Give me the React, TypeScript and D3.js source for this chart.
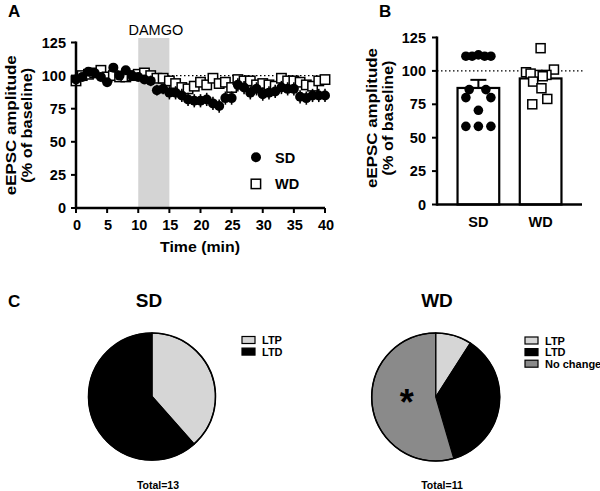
import React from "react";
import * as d3 from "d3";

// ---------- Panel A data ----------
const timeMin = d3.range(0, 41);
const sdTime = [97, 99, 103, 102, 99, 95, 106, 100, 104, 100, 99, 97, 96, 89, 90, 87, 87, 85, 82, 81, 81, 82, 79, 77, 83, 83, 93, 91, 87, 90, 86, 87, 88, 91, 90, 90, 84, 83, 85, 85, 85];
const sdTimeErr = [3, 3, 3, 3, 3, 3, 3, 3, 3, 3, 3, 3, 4, 4, 4, 5, 5, 5, 5, 5, 5, 5, 5, 5, 5, 5, 5, 5, 5, 5, 5, 5, 5, 5, 5, 5, 5, 5, 5, 5, 5];
const wdTime = [96, 100, 101, 102, 104, 99, 100, 99, 99, 100, 101, 102, 100, 98, 98, 96, 94, 91, 90, 92, 95, 93, 98, 94, 95, 91, 97, 96, 96, 93, 94, 93, 92, 98, 96, 96, 95, 93, 92, 96, 97];
const wdTimeErr = [2, 2, 2, 2, 2, 2, 2, 2, 2, 2, 2, 2, 2, 3, 3, 3, 3, 3, 3, 3, 3, 3, 3, 3, 3, 3, 3, 3, 3, 3, 3, 3, 3, 3, 3, 3, 3, 3, 3, 3, 3];
const xTicksA = [0, 5, 10, 15, 20, 25, 30, 35, 40];
const yTicks = [0, 25, 50, 75, 100, 125];
const damgoWindow = [10, 15];

// ---------- Panel B data ----------
const groups = ["SD", "WD"];
const sdCells = [111, 111, 112, 111, 111, 86, 86, 80, 80, 70.5, 58.5, 58.5, 58.5];
const sdJitter = [-0.3, -0.15, 0, 0.15, 0.3, -0.22, 0.18, -0.3, 0.3, 0, -0.3, 0, 0.3];
const wdCells = [117, 99, 101, 97, 97, 98, 96, 92, 87, 79, 75];
const wdJitter = [0, -0.35, 0.32, -0.08, 0.14, -0.24, 0.05, -0.18, 0.02, 0.16, -0.2];

// ---------- Panel C data ----------
const sdPieLabels = ["LTP", "LTD"];
const sdPieCounts = [5, 8];
const wdPieLabels = ["LTP", "LTD", "No change"];
const wdPieCounts = [1, 4, 6];
const pieColors: Record<string, string> = { LTP: "#d6d6d6", LTD: "#000000", "No change": "#8a8a8a" };

const FONT = "'Liberation Sans', Arial, sans-serif";

function sem(v: number[]) {
  return (d3.deviation(v) as number) / Math.sqrt(v.length);
}

function YTitle(props: { x: number; cy: number }) {
  const { x, cy } = props;
  return (
    <g>
      <text transform={`translate(${x},${cy}) rotate(-90)`} fontSize={15.5} fontWeight="bold" textAnchor="middle" fontFamily={FONT} textLength={140} lengthAdjust="spacingAndGlyphs">eEPSC amplitude</text>
      <text transform={`translate(${x + 15.5},${cy}) rotate(-90)`} fontSize={15.5} fontWeight="bold" textAnchor="middle" fontFamily={FONT} textLength={115} lengthAdjust="spacingAndGlyphs">(% of baseline)</text>
    </g>
  );
}

function PanelA() {
  const x = d3.scaleLinear().domain([0, 40]).range([76, 325]);
  const y = d3.scaleLinear().domain([0, 125]).range([208, 42.5]);
  return (
    <g>
      <text x={8} y={17} fontSize={17} fontWeight="bold" fontFamily={FONT}>A</text>
      <rect x={x(damgoWindow[0])} y={38} width={x(damgoWindow[1]) - x(damgoWindow[0])} height={208 - 38} fill="#d4d4d4" />
      <text x={(x(damgoWindow[0]) + x(damgoWindow[1])) / 2 + 2} y={35} fontSize={14.5} textAnchor="middle" fontFamily={FONT}>DAMGO</text>
      <line x1={x(0)} x2={x(40)} y1={y(100)} y2={y(100)} stroke="#000" strokeWidth={1.2} strokeDasharray="1.5,2.5" />
      {/* WD */}
      {timeMin.map((t, i) => (
        <line key={"we" + i} x1={x(t)} x2={x(t)} y1={y(wdTime[i] - wdTimeErr[i])} y2={y(wdTime[i] + wdTimeErr[i])} stroke="#000" strokeWidth={1.3} />
      ))}
      {timeMin.map((t, i) => (
        <rect key={"ws" + i} x={x(t) - 4.7} y={y(wdTime[i]) - 4.7} width={9.4} height={9.4} fill="#fff" stroke="#000" strokeWidth={1.5} />
      ))}
      {/* SD */}
      {timeMin.map((t, i) => (
        <line key={"se" + i} x1={x(t)} x2={x(t)} y1={y(sdTime[i] - sdTimeErr[i])} y2={y(sdTime[i] + sdTimeErr[i])} stroke="#000" strokeWidth={1.6} />
      ))}
      {timeMin.map((t, i) => (
        <circle key={"sc" + i} cx={x(t)} cy={y(sdTime[i])} r={5} fill="#000" />
      ))}
      {/* axes */}
      <line x1={x(0)} x2={x(40)} y1={208} y2={208} stroke="#000" strokeWidth={2.5} />
      <line x1={76} x2={76} y1={y(125) - 1} y2={209.2} stroke="#000" strokeWidth={2.5} />
      {xTicksA.map((t) => (
        <g key={"xt" + t}>
          <line x1={x(t)} x2={x(t)} y1={208} y2={213} stroke="#000" strokeWidth={2} />
          <text x={x(t) + 1} y={230} fontSize={14.5} fontWeight="bold" textAnchor="middle" fontFamily={FONT}>{t}</text>
        </g>
      ))}
      {yTicks.map((t) => (
        <g key={"yt" + t}>
          <line x1={71} x2={76} y1={y(t)} y2={y(t)} stroke="#000" strokeWidth={2} />
          <text x={66} y={y(t) + 5} fontSize={14.5} fontWeight="bold" textAnchor="end" fontFamily={FONT}>{t}</text>
        </g>
      ))}
      <text x={200} y={252} fontSize={15} fontWeight="bold" textAnchor="middle" fontFamily={FONT} textLength={80} lengthAdjust="spacingAndGlyphs">Time (min)</text>
      <YTitle x={16} cy={y(62.5)} />
      {/* legend */}
      <circle cx={256} cy={157.3} r={5} fill="#000" />
      <text x={275} y={162.5} fontSize={14.5} fontWeight="bold" fontFamily={FONT}>SD</text>
      <rect x={251.2} y={179.2} width={9.4} height={9.4} fill="#fff" stroke="#000" strokeWidth={1.5} />
      <text x={275} y={189} fontSize={14.5} fontWeight="bold" fontFamily={FONT}>WD</text>
    </g>
  );
}

function PanelB() {
  const x = d3.scaleBand().domain(groups).range([437, 582]).paddingInner(0.33).paddingOuter(0.33);
  const y = d3.scaleLinear().domain([0, 125]).range([204.5, 37.5]);
  const cells = [sdCells, wdCells];
  const jit = [sdJitter, wdJitter];
  const bw = x.bandwidth();
  return (
    <g>
      <text x={379} y={17} fontSize={17} fontWeight="bold" fontFamily={FONT}>B</text>
      {groups.map((g, gi) => {
        const m = d3.mean(cells[gi]) as number;
        const e = sem(cells[gi]);
        const x0 = x(g) as number;
        const cx = x0 + bw / 2;
        return (
          <g key={g}>
            <rect x={x0} y={y(m)} width={bw} height={y(0) - y(m)} fill="#fff" stroke="#000" strokeWidth={2.2} />
            <line x1={cx} x2={cx} y1={y(m)} y2={y(m + e)} stroke="#000" strokeWidth={2} />
            <line x1={cx - 8} x2={cx + 8} y1={y(m + e)} y2={y(m + e)} stroke="#000" strokeWidth={2} />
          </g>
        );
      })}
      <line x1={437} x2={584} y1={y(100)} y2={y(100)} stroke="#000" strokeWidth={1.2} strokeDasharray="1.5,2.5" />
      {sdCells.map((v, i) => {
        const cx = (x("SD") as number) + bw / 2 + jit[0][i] * bw;
        return <circle key={"bc" + i} cx={cx} cy={y(v)} r={4.8} fill="#000" />;
      })}
      {wdCells.map((v, i) => {
        const cx = (x("WD") as number) + bw / 2 + jit[1][i] * bw;
        return <rect key={"bs" + i} x={cx - 4.5} y={y(v) - 4.5} width={9} height={9} fill="#fff" stroke="#000" strokeWidth={1.5} />;
      })}
      <line x1={437} x2={582} y1={204.5} y2={204.5} stroke="#000" strokeWidth={2.5} />
      <line x1={437} x2={437} y1={y(125) - 1} y2={205.7} stroke="#000" strokeWidth={2.5} />
      {yTicks.map((t) => (
        <g key={"byt" + t}>
          <line x1={432} x2={437} y1={y(t)} y2={y(t)} stroke="#000" strokeWidth={2} />
          <text x={426} y={y(t) + 5} fontSize={14.5} fontWeight="bold" textAnchor="end" fontFamily={FONT}>{t}</text>
        </g>
      ))}
      {groups.map((g) => (
        <text key={"bl" + g} x={(x(g) as number) + bw / 2} y={227} fontSize={14.5} fontWeight="bold" textAnchor="middle" fontFamily={FONT}>{g}</text>
      ))}
      <YTitle x={377} cy={y(62.5) - 3} />
    </g>
  );
}

function Pie(props: { cx: number; cy: number; r: number; labels: string[]; counts: number[]; title: string; titleX: number; totalX: number; legendX: number; legendY: number; star?: boolean }) {
  const { cx, cy, r, labels, counts, title, titleX, totalX, legendX, legendY, star } = props;
  const pie = d3.pie<number>().sort(null).value((d) => d);
  const arcs = pie(counts);
  const arc = d3.arc<d3.PieArcDatum<number>>().innerRadius(0).outerRadius(r);
  const total = d3.sum(counts);
  return (
    <g>
      <text x={titleX} y={307} fontSize={19} fontWeight="bold" textAnchor="middle" fontFamily={FONT}>{title}</text>
      <g transform={`translate(${cx},${cy})`}>
        {arcs.map((a, i) => (
          <path key={i} d={arc(a) || ""} fill={pieColors[labels[i]]} stroke="#000" strokeWidth={1.2} />
        ))}
        <circle r={r} fill="none" stroke="#000" strokeWidth={1.5} />
      </g>
      {star && (
        <text x={cx - 29} y={cy + 18} fontSize={36} fontWeight="bold" textAnchor="middle" fontFamily={FONT}>*</text>
      )}
      {labels.map((l, i) => (
        <g key={l}>
          <rect x={legendX} y={legendY + i * 11.6 - 3.5} width={13} height={7} fill={pieColors[l]} stroke="#000" strokeWidth={1.2} />
          <text x={legendX + 20} y={legendY + i * 11.6 + 4} fontSize={11} fontWeight="bold" fontFamily={FONT}>{l}</text>
        </g>
      ))}
      <text x={totalX} y={489} fontSize={10.5} fontWeight="bold" textAnchor="middle" fontFamily={FONT}>{`Total=${total}`}</text>
    </g>
  );
}

export default function App() {
  return (
    <svg width={600} height={491} style={{ position: "absolute", left: 0, top: 0, background: "#fff" }}>
      <rect width={600} height={491} fill="#fff" />
      <PanelA />
      <PanelB />
      <text x={8} y={307} fontSize={17} fontWeight="bold" fontFamily={FONT}>C</text>
      <Pie cx={152} cy={396.5} r={63.5} labels={sdPieLabels} counts={sdPieCounts} title="SD" titleX={149} totalX={158} legendX={242} legendY={340} />
      <Pie cx={435.7} cy={397} r={64} labels={wdPieLabels} counts={wdPieCounts} title="WD" titleX={437} totalX={442} legendX={525} legendY={340.5} star />
    </svg>
  );
}
